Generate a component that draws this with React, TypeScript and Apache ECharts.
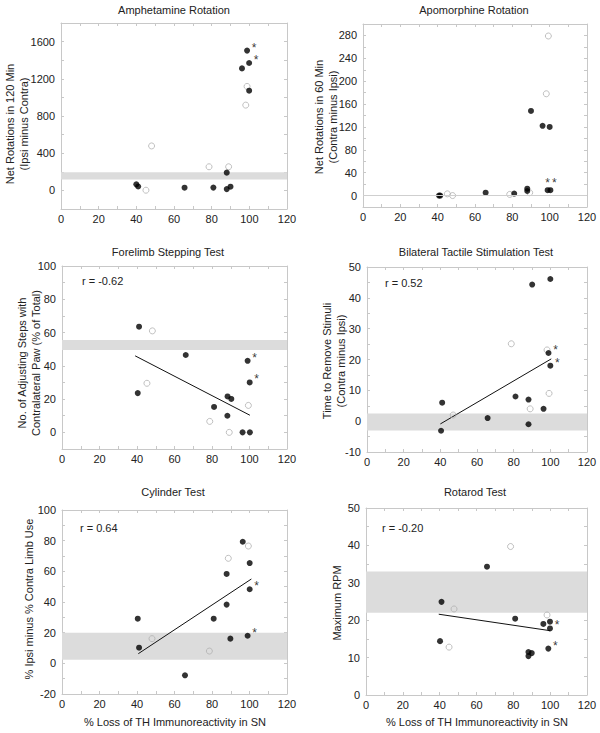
import React, { useEffect, useRef } from "react";
import * as echarts from "echarts";

const FONT = '"Liberation Sans", Arial, Helvetica, sans-serif';

// x = % loss of TH immunoreactivity in SN, y = behavioural score
// Panel 1: Amphetamine rotation
const amphFilled = [[40, 65], [41, 42], [65.6, 29], [80.9, 30], [88, 191], [88, 14], [90, 40], [96.1, 1312], [98.8, 1503], [99.9, 1370], [99.9, 1072]];
const amphOpen = [[45.1, 2], [48.1, 478], [78.6, 254], [89, 254], [98.1, 917], [98.8, 1118]];
const amphStars = [[98.8, 1503], [99.9, 1370]];
const amphBand = [117, 196];

// Panel 2: Apomorphine rotation
const apoFilled = [[40.7, 0], [41.4, 0], [65.7, 5], [81, 3.5], [88, 12], [88, 8], [90, 148], [96.2, 122], [98.9, 9.4], [100.4, 9.4], [100, 120]];
const apoOpen = [[45.2, 3], [48, 0], [78.6, 2], [89.3, 5], [98.2, 178], [99.3, 279]];
const apoStars = [[98.9, 9.4], [100.4, 9.4]];
const apoBaseline = 0;

// Panel 3: Forelimb stepping
const stepFilled = [[41.1, 63.5], [40.4, 23.6], [66, 46.5], [81.1, 15.3], [88.3, 21.6], [88.2, 10], [90.3, 20.1], [96.3, 0], [99, 43], [100.1, 30], [100.2, 0]];
const stepOpen = [[45.3, 29.5], [48.2, 61], [78.8, 6.6], [89.2, 0], [99.4, 16.2]];
const stepStars = [[99, 43], [100.1, 30]];
const stepBand = [49.5, 55.5];
const stepFit = [[39, 46], [100.2, 10.3]];
const stepR = "r = -0.62";

// Panel 4: Bilateral tactile stimulation
const tactFilled = [[41, 6], [40.4, -3.1], [65.8, 1], [81, 8], [88.1, 7], [88.1, -1], [90.1, 44.3], [96.3, 4], [99, 22.1], [100, 46.1], [100, 18]];
const tactOpen = [[47, 2], [78.7, 25.1], [89, 4], [98.2, 23.1], [99.3, 9]];
const tactStars = [[99, 22.1], [100, 18]];
const tactBand = [-3, 2.5];
const tactFit = [[40, -0.9], [100.5, 20.2]];
const tactR = "r = 0.52";

// Panel 5: Cylinder
const cylFilled = [[40.4, 29.1], [41.1, 10.2], [65.6, -7.8], [80.9, 29.1], [87.8, 58.3], [87.8, 38.3], [89.8, 16.1], [96.4, 79.3], [99, 18], [100.1, 65.4], [100.1, 48.3]];
const cylOpen = [[48, 16.1], [78.6, 8], [88.7, 68.5], [99.4, 76.5]];
const cylStars = [[99, 18], [100.1, 48.3]];
const cylBand = [2.4, 20];
const cylFit = [[40.7, 6.3], [101, 55]];
const cylR = "r = 0.64";

// Panel 6: Rotarod
const rotFilled = [[41, 24.9], [40.2, 14.4], [65.7, 34.3], [81, 20.4], [88.2, 11.5], [88.2, 10.4], [90, 11.2], [96.3, 19], [99, 12.4], [99.9, 19.6], [99.9, 17.8]];
const rotOpen = [[45.1, 12.8], [47.8, 23], [78.5, 39.7], [98.3, 21.4]];
const rotStars = [[99, 12.4], [99.9, 17.8]];
const rotBand = [22, 33];
const rotFit = [[39.5, 21.6], [100, 17.2]];
const rotR = "r = -0.20";

const xTitle = "% Loss of TH Immunoreactivity in SN";

type Panel = {
  title: string;
  titlePos: [number, number];
  yName: { text: string; x: number }[];
  yNameY: number;
  grid: { left: number; top: number; width: number; height: number };
  yMin: number;
  yMax: number;
  yTick: number;
  yLabelStep: number;
  yLabelMin: number;
  yLabelMax: number;
  filled: number[][];
  open: number[][];
  stars: number[][];
  starOffsets?: number[][];
  band?: number[];
  baseline?: number;
  fit?: number[][];
  r?: string;
  rPos?: [number, number];
  xName?: [number, number];
};

const panels: Panel[] = [
  {
    title: "Amphetamine Rotation", titlePos: [174, 10],
    yName: [{ text: "Net Rotations in 120 Min", x: 10 }, { text: "(Ipsi minus Contra)", x: 24 }], yNameY: 124,
    grid: { left: 61, top: 23, width: 226, height: 186 },
    yMin: -200, yMax: 1800, yTick: 200, yLabelStep: 400, yLabelMin: 0, yLabelMax: 1600,
    filled: amphFilled, open: amphOpen, stars: amphStars, band: amphBand,
  },
  {
    title: "Apomorphine Rotation", titlePos: [474, 10],
    yName: [{ text: "Net Rotations in 60 Min", x: 318.5 }, { text: "(Contra minus Ipsi)", x: 333 }], yNameY: 117,
    grid: { left: 363, top: 24, width: 224, height: 183 },
    yMin: -20, yMax: 300, yTick: 20, yLabelStep: 40, yLabelMin: 0, yLabelMax: 280,
    filled: apoFilled, open: apoOpen, stars: apoStars, starOffsets: [[0, -7], [4, -7]], baseline: apoBaseline,
  },
  {
    title: "Forelimb Stepping Test", titlePos: [168, 252],
    yName: [{ text: "No. of Adjusting Steps with", x: 21.5 }, { text: "Contralateral Paw (% of Total)", x: 36 }], yNameY: 363,
    grid: { left: 62, top: 266, width: 225, height: 183 },
    yMin: -10, yMax: 100, yTick: 10, yLabelStep: 20, yLabelMin: 0, yLabelMax: 100,
    filled: stepFilled, open: stepOpen, stars: stepStars, band: stepBand, fit: stepFit, r: stepR, rPos: [82, 281],
  },
  {
    title: "Bilateral Tactile Stimulation Test", titlePos: [476, 252],
    yName: [{ text: "Time to Remove Stimuli", x: 326.5 }, { text: "(Contra minus Ipsi)", x: 340.5 }], yNameY: 361,
    grid: { left: 367, top: 267, width: 220, height: 185 },
    yMin: -10, yMax: 50, yTick: 5, yLabelStep: 10, yLabelMin: -10, yLabelMax: 50,
    filled: tactFilled, open: tactOpen, stars: tactStars, band: tactBand, fit: tactFit, r: tactR, rPos: [385, 283],
  },
  {
    title: "Cylinder Test", titlePos: [173, 492],
    yName: [{ text: "% Ipsi minus % Contra Limb Use", x: 28.5 }], yNameY: 599,
    grid: { left: 62, top: 510, width: 225, height: 184 },
    yMin: -20, yMax: 100, yTick: 10, yLabelStep: 20, yLabelMin: -20, yLabelMax: 100,
    filled: cylFilled, open: cylOpen, stars: cylStars, band: cylBand, fit: cylFit, r: cylR, rPos: [80, 528], xName: [175, 722],
  },
  {
    title: "Rotarod Test", titlePos: [475, 492],
    yName: [{ text: "Maximum RPM", x: 336.5 }], yNameY: 603,
    grid: { left: 366, top: 508, width: 221, height: 187 },
    yMin: 0, yMax: 50, yTick: 5, yLabelStep: 10, yLabelMin: 0, yLabelMax: 50,
    filled: rotFilled, open: rotOpen, stars: rotStars, band: rotBand, fit: rotFit, r: rotR, rPos: [382, 528], xName: [477, 722],
  },
];

const FRAME = "#c8c8c8";
const TEXT = "#222";

function buildOption() {
  const grid: any[] = [];
  const xAxis: any[] = [];
  const yAxis: any[] = [];
  const series: any[] = [];
  const graphic: any[] = [];

  panels.forEach((p, i) => {
    grid.push({ ...p.grid, show: false, containLabel: false });
    const baseX = {
      gridIndex: i, type: "value", min: 0, max: 120, interval: 10,
      axisLine: { show: true, onZero: false, lineStyle: { color: FRAME, width: 1 } },
      axisTick: { show: true, inside: true, length: 3, lineStyle: { color: FRAME } },
      splitLine: { show: false },
    };
    xAxis.push({
      ...baseX, position: "bottom",
      axisLabel: {
        show: true, interval: 0, margin: 4, color: TEXT, fontSize: 11, fontFamily: FONT,
        showMinLabel: true, showMaxLabel: true,
        formatter: (v: number) => (v % 20 === 0 ? String(v) : ""),
      },
    });
    xAxis.push({ ...baseX, position: "top", axisLabel: { show: false } });
    const baseY = {
      gridIndex: i, type: "value", min: p.yMin, max: p.yMax, interval: p.yTick,
      axisLine: { show: true, onZero: false, lineStyle: { color: FRAME, width: 1 } },
      axisTick: { show: true, inside: true, length: 3, lineStyle: { color: FRAME } },
      splitLine: { show: false },
    };
    yAxis.push({
      ...baseY, position: "left",
      axisLabel: {
        show: true, interval: 0, margin: 6, color: TEXT, fontSize: 11, fontFamily: FONT,
        showMinLabel: true, showMaxLabel: true,
        formatter: (v: number) =>
          v >= p.yLabelMin && v <= p.yLabelMax && Math.abs(v % p.yLabelStep) < 1e-9 ? String(v) : "",
      },
    });
    yAxis.push({ ...baseY, position: "right", axisLabel: { show: false } });

    const xi = i * 2;
    const yi = i * 2;

    const bandSeries: any = {
      type: "line", xAxisIndex: xi, yAxisIndex: yi, data: [], z: 1, silent: true,
    };
    if (p.band) {
      bandSeries.markArea = {
        silent: true, itemStyle: { color: "#dcdcdc" },
        data: [[{ yAxis: p.band[0] }, { yAxis: p.band[1] }]],
      };
    }
    if (p.baseline !== undefined) {
      bandSeries.markLine = {
        silent: true, symbol: "none", label: { show: false },
        lineStyle: { color: "#cfcfcf", type: "solid", width: 1 },
        data: [{ yAxis: p.baseline }],
      };
    }
    series.push(bandSeries);

    if (p.fit) {
      series.push({
        type: "line", xAxisIndex: xi, yAxisIndex: yi, data: p.fit, symbol: "none", z: 2, silent: true,
        lineStyle: { color: "#111", width: 1 },
      });
    }
    series.push({
      type: "scatter", xAxisIndex: xi, yAxisIndex: yi, data: p.open, symbol: "circle", symbolSize: 6, z: 3,
      itemStyle: { color: "rgba(255,255,255,0)", borderColor: "#b0b0b0", borderWidth: 1 },
    });
    series.push({
      type: "scatter", xAxisIndex: xi, yAxisIndex: yi, data: p.filled, symbol: "circle", symbolSize: 6, z: 4,
      itemStyle: { color: "#000" },
    });
    series.push({
      type: "scatter", xAxisIndex: xi, yAxisIndex: yi, symbol: "circle", symbolSize: 0, z: 5, silent: true,
      data: p.stars.map((s, k) => ({
        value: s,
        label: {
          show: true, position: "inside", formatter: "*", color: "#000", fontSize: 12, fontFamily: FONT,
          offset: p.starOffsets ? p.starOffsets[k] : [7, -3],
        },
      })),
    });

    graphic.push({
      type: "text", x: p.titlePos[0], y: p.titlePos[1],
      style: { text: p.title, font: `11px ${FONT}`, fill: TEXT, align: "center", verticalAlign: "middle" },
    });
    p.yName.forEach((ln) => {
      graphic.push({
        type: "text", x: ln.x, y: p.yNameY, rotation: Math.PI / 2,
        style: { text: ln.text, font: `11px ${FONT}`, fill: TEXT, align: "center", verticalAlign: "middle" },
      });
    });
    if (p.r && p.rPos) {
      graphic.push({
        type: "text", x: p.rPos[0], y: p.rPos[1],
        style: { text: p.r, font: `11px ${FONT}`, fill: TEXT, align: "left", verticalAlign: "middle" },
      });
    }
    if (p.xName) {
      graphic.push({
        type: "text", x: p.xName[0], y: p.xName[1],
        style: { text: xTitle, font: `11px ${FONT}`, fill: TEXT, align: "center", verticalAlign: "middle" },
      });
    }
  });

  return {
    animation: false,
    backgroundColor: "#fff",
    textStyle: { fontFamily: FONT },
    grid, xAxis, yAxis, series, graphic,
  };
}

export default function App() {
  const ref = useRef<HTMLDivElement>(null);
  useEffect(() => {
    document.body.style.margin = "0";
    if (!ref.current) return;
    const chart = echarts.init(ref.current, undefined, { renderer: "svg" });
    chart.setOption(buildOption() as any);
    return () => chart.dispose();
  }, []);
  return <div ref={ref} style={{ width: 600, height: 733 }} />;
}
